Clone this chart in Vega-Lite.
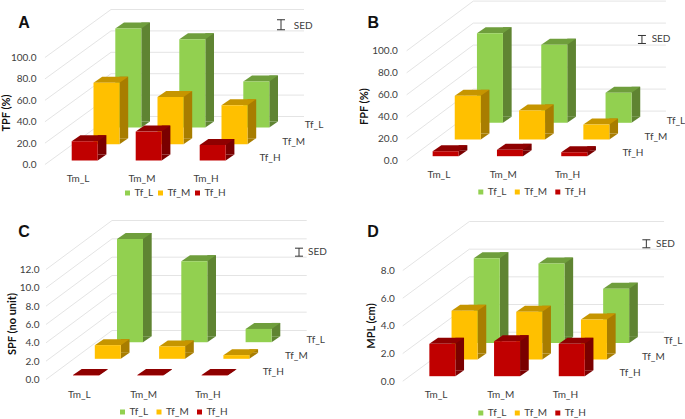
{"$schema":"https://vega.github.io/schema/vega-lite/v6.json","padding":{"left":0,"top":-1.5,"right":0,"bottom":0},"background":"white","columns":2,"spacing":0,"bounds":"flush","resolve":{"scale":{"color":"independent"},"legend":{"color":"independent"}},"config":{"view":{"stroke":null},"axis":{"domain":false,"ticks":false,"grid":false,"labelFont":"Lato","labelFontSize":10,"labelColor":"#404040","titleFont":"Lato","titleFontWeight":"bold","titleFontSize":11,"titleColor":"#111111","labelOverlap":false,"labelFlush":false,"titleBaseline":"middle","titleAlign":"center"},"legend":{"title":null,"orient":"none","direction":"horizontal","columns":3,"symbolType":"square","symbolSize":25,"symbolStrokeWidth":0,"labelFont":"Lato","labelFontSize":10,"labelColor":"#404040","labelOffset":2,"columnPadding":5.5,"gridAlign":"each"},"text":{"font":"Lato","fontSize":10,"color":"#404040","baseline":"middle"}},
"concat":[
{"width":340,"height":210,"data":{"values":[{"Tm":"Tm_L","Tf":"Tf_L","value":92.5},{"Tm":"Tm_M","Tf":"Tf_L","value":82.5},{"Tm":"Tm_H","Tf":"Tf_L","value":43},{"Tm":"Tm_L","Tf":"Tf_M","value":57.5},{"Tm":"Tm_M","Tf":"Tf_M","value":44},{"Tm":"Tm_H","Tf":"Tf_M","value":36.5},{"Tm":"Tm_L","Tf":"Tf_H","value":18},{"Tm":"Tm_M","Tf":"Tf_H","value":27},{"Tm":"Tm_H","Tf":"Tf_H","value":14.5}]},
"encoding":{"x":{"field":"Tm","type":"nominal","sort":null,"title":null,"scale":{"type":"band","domain":["Tm_L","Tm_M","Tm_H"],"range":[52.7,244.7],"paddingInner":0,"paddingOuter":0},"axis":{"offset":-32,"labelPadding":0,"labelAngle":0,"labelBaseline":"middle","labelOffset":-6.7}},"y":{"field":"value","type":"quantitative","title":"TPF (%)","scale":{"domain":[0,100],"range":[164,57],"nice":false},"axis":{"offset":-45,"labelPadding":9,"format":".1f","values":[0,20,40,60,80,100],"titleX":-38.3,"titleY":112}}},
"layer":[
{"data":{"values":[{"grid":0},{"grid":20},{"grid":40},{"grid":60},{"grid":80},{"grid":100}]},"mark":{"type":"point","shape":"M-39.7,0L26.3,-48L219.3,-48","size":4,"filled":false,"opacity":1,"color":"#e4e4e4","strokeWidth":1},"encoding":{"x":{"datum":"Tm_L","type":"nominal"},"y":{"field":"grid","type":"quantitative"}}},
{"transform":[{"filter":"datum.Tf=='Tf_L'"}],"layer":[
{"mark":{"type":"point","shape":"M0,0L0,-6L8.7,-6Z","size":4,"filled":true,"opacity":1,"strokeWidth":0,"color":"#5F8432","xOffset":56.6,"yOffset":-37},"encoding":{"y":{"datum":0,"type":"quantitative"}}},
{"mark":{"type":"bar","width":8.7,"color":"#5F8432","xOffset":60.95,"yOffset":-43,"y2Offset":-43}},
{"mark":{"type":"point","shape":"M-13,0L13,0L21.7,-6L-4.3,-6Z","size":4,"filled":true,"opacity":1,"strokeWidth":0,"color":"#6F9E3C","xOffset":43.6,"yOffset":-37}},
{"mark":{"type":"bar","width":26,"xOffset":43.6,"yOffset":-37,"y2Offset":-37},"encoding":{"color":{"field":"Tf","type":"nominal","sort":null,"scale":{"domain":["Tf_L","Tf_M","Tf_H"],"range":["#92D050","#FFC000","#C00000"]},"legend":{"legendX":122.5,"legendY":187.5,"columnPadding":2}}}},
{"transform":[{"filter":"datum.Tm=='Tm_H'"}],"mark":{"type":"text","xOffset":101.3,"yOffset":-40},"encoding":{"y":{"datum":0,"type":"quantitative"},"text":{"field":"Tf"}}}]},
{"transform":[{"filter":"datum.Tf=='Tf_M'"}],"layer":[
{"mark":{"type":"point","shape":"M0,0L0,-6L8.7,-6Z","size":4,"filled":true,"opacity":1,"strokeWidth":0,"color":"#A87D00","xOffset":34.8,"yOffset":-20.3},"encoding":{"y":{"datum":0,"type":"quantitative"}}},
{"mark":{"type":"bar","width":8.7,"color":"#A87D00","xOffset":39.15,"yOffset":-26.3,"y2Offset":-26.3}},
{"mark":{"type":"point","shape":"M-13,0L13,0L21.7,-6L-4.3,-6Z","size":4,"filled":true,"opacity":1,"strokeWidth":0,"color":"#C69500","xOffset":21.8,"yOffset":-20.3}},
{"mark":{"type":"bar","width":26,"xOffset":21.8,"yOffset":-20.3,"y2Offset":-20.3},"encoding":{"color":{"field":"Tf","type":"nominal","sort":null}}},
{"transform":[{"filter":"datum.Tm=='Tm_H'"}],"mark":{"type":"text","xOffset":81,"yOffset":-23},"encoding":{"y":{"datum":0,"type":"quantitative"},"text":{"field":"Tf"}}}]},
{"transform":[{"filter":"datum.Tf=='Tf_H'"}],"layer":[
{"mark":{"type":"point","shape":"M0,0L0,-6L8.7,-6Z","size":4,"filled":true,"opacity":1,"strokeWidth":0,"color":"#7A0000","xOffset":13,"yOffset":-4},"encoding":{"y":{"datum":0,"type":"quantitative"}}},
{"mark":{"type":"bar","width":8.7,"color":"#7A0000","xOffset":17.35,"yOffset":-10,"y2Offset":-10}},
{"mark":{"type":"point","shape":"M-13,0L13,0L21.7,-6L-4.3,-6Z","size":4,"filled":true,"opacity":1,"strokeWidth":0,"color":"#8F0000","xOffset":0,"yOffset":-4}},
{"mark":{"type":"bar","width":26,"xOffset":0,"yOffset":-4,"y2Offset":-4},"encoding":{"color":{"field":"Tf","type":"nominal","sort":null}}},
{"transform":[{"filter":"datum.Tm=='Tm_H'"}],"mark":{"type":"text","xOffset":57.3,"yOffset":-6.3},"encoding":{"y":{"datum":0,"type":"quantitative"},"text":{"field":"Tf"}}}]},
{"data":{"values":[{"Tm":"Tm_H","label":"SED","value":130.6}]},"layer":[{"mark":{"type":"point","shape":"M-4,-5L4,-5M0,-5L0,5M-4,5L4,5","size":4,"filled":false,"opacity":1,"color":"#333333","strokeWidth":1,"xOffset":68.3}},{"mark":{"type":"text","align":"left","xOffset":81,"yOffset":1},"encoding":{"text":{"field":"label"}}}]},
{"data":{"values":[{"Tm":"Tm_L","panel":"A","value":131.8}]},"mark":{"type":"text","font":"Liberation Sans","fontWeight":"bold","fontSize":16,"color":"#111111","xOffset":-60.7},"encoding":{"text":{"field":"panel"}}}
]},
{"width":340,"height":210,"data":{"values":[{"Tm":"Tm_L","Tf":"Tf_L","value":81.5},{"Tm":"Tm_M","Tf":"Tf_L","value":71},{"Tm":"Tm_H","Tf":"Tf_L","value":27.3},{"Tm":"Tm_L","Tf":"Tf_M","value":39.7},{"Tm":"Tm_M","Tf":"Tf_M","value":26.4},{"Tm":"Tm_H","Tf":"Tf_M","value":13.6},{"Tm":"Tm_L","Tf":"Tf_H","value":4.5},{"Tm":"Tm_M","Tf":"Tf_H","value":5.8},{"Tm":"Tm_H","Tf":"Tf_H","value":3.6}]},
"encoding":{"x":{"field":"Tm","type":"nominal","sort":null,"title":null,"scale":{"type":"band","domain":["Tm_L","Tm_M","Tm_H"],"range":[73.5,266.4],"paddingInner":0,"paddingOuter":0},"axis":{"offset":-35.7,"labelPadding":0,"labelAngle":0,"labelBaseline":"middle","labelOffset":-6.7}},"y":{"field":"value","type":"quantitative","title":"FPF (%)","scale":{"domain":[0,100],"range":[160.3,50.3],"nice":false},"axis":{"offset":-66.7,"labelPadding":9.4,"format":".1f","values":[0,20,40,60,80,100],"titleX":-42.7,"titleY":105.7}}},
"layer":[
{"data":{"values":[{"grid":0},{"grid":20},{"grid":40},{"grid":60},{"grid":80},{"grid":100}]},"mark":{"type":"point","shape":"M-39,0L27.6,-49.7L220.3,-49.7","size":4,"filled":false,"opacity":1,"color":"#e4e4e4","strokeWidth":1},"encoding":{"x":{"datum":"Tm_L","type":"nominal"},"y":{"field":"grid","type":"quantitative"}}},
{"transform":[{"filter":"datum.Tf=='Tf_L'"}],"layer":[
{"mark":{"type":"point","shape":"M0,0L0,-6L8.7,-6Z","size":4,"filled":true,"opacity":1,"strokeWidth":0,"color":"#5F8432","xOffset":57.3,"yOffset":-38},"encoding":{"y":{"datum":0,"type":"quantitative"}}},
{"mark":{"type":"bar","width":8.7,"color":"#5F8432","xOffset":61.65,"yOffset":-44,"y2Offset":-44}},
{"mark":{"type":"point","shape":"M-13,0L13,0L21.7,-6L-4.3,-6Z","size":4,"filled":true,"opacity":1,"strokeWidth":0,"color":"#6F9E3C","xOffset":44.3,"yOffset":-38}},
{"mark":{"type":"bar","width":26,"xOffset":44.3,"yOffset":-38,"y2Offset":-38},"encoding":{"color":{"field":"Tf","type":"nominal","sort":null,"scale":{"domain":["Tf_L","Tf_M","Tf_H"],"range":["#92D050","#FFC000","#C00000"]},"legend":{"legendX":135.8,"legendY":186.5}}}},
{"transform":[{"filter":"datum.Tm=='Tm_H'"}],"mark":{"type":"text","xOffset":101.7,"yOffset":-40.3},"encoding":{"y":{"datum":0,"type":"quantitative"},"text":{"field":"Tf"}}}]},
{"transform":[{"filter":"datum.Tf=='Tf_M'"}],"layer":[
{"mark":{"type":"point","shape":"M0,0L0,-6L8.7,-6Z","size":4,"filled":true,"opacity":1,"strokeWidth":0,"color":"#A87D00","xOffset":35.1,"yOffset":-21.3},"encoding":{"y":{"datum":0,"type":"quantitative"}}},
{"mark":{"type":"bar","width":8.7,"color":"#A87D00","xOffset":39.45,"yOffset":-27.3,"y2Offset":-27.3}},
{"mark":{"type":"point","shape":"M-13,0L13,0L21.7,-6L-4.3,-6Z","size":4,"filled":true,"opacity":1,"strokeWidth":0,"color":"#C69500","xOffset":22.1,"yOffset":-21.3}},
{"mark":{"type":"bar","width":26,"xOffset":22.1,"yOffset":-21.3,"y2Offset":-21.3},"encoding":{"color":{"field":"Tf","type":"nominal","sort":null}}},
{"transform":[{"filter":"datum.Tm=='Tm_H'"}],"mark":{"type":"text","xOffset":81.7,"yOffset":-24.3},"encoding":{"y":{"datum":0,"type":"quantitative"},"text":{"field":"Tf"}}}]},
{"transform":[{"filter":"datum.Tf=='Tf_H'"}],"layer":[
{"mark":{"type":"point","shape":"M0,0L0,-6L8.7,-6Z","size":4,"filled":true,"opacity":1,"strokeWidth":0,"color":"#7A0000","xOffset":13,"yOffset":-4.6},"encoding":{"y":{"datum":0,"type":"quantitative"}}},
{"mark":{"type":"bar","width":8.7,"color":"#7A0000","xOffset":17.35,"yOffset":-10.6,"y2Offset":-10.6}},
{"mark":{"type":"point","shape":"M-13,0L13,0L21.7,-6L-4.3,-6Z","size":4,"filled":true,"opacity":1,"strokeWidth":0,"color":"#8F0000","xOffset":0,"yOffset":-4.6}},
{"mark":{"type":"bar","width":26,"xOffset":0,"yOffset":-4.6,"y2Offset":-4.6},"encoding":{"color":{"field":"Tf","type":"nominal","sort":null}}},
{"transform":[{"filter":"datum.Tm=='Tm_H'"}],"mark":{"type":"text","xOffset":58.7,"yOffset":-8},"encoding":{"y":{"datum":0,"type":"quantitative"},"text":{"field":"Tf"}}}]},
{"data":{"values":[{"Tm":"Tm_H","label":"SED","value":110.3}]},"layer":[{"mark":{"type":"point","shape":"M-4,-4L4,-4M0,-4L0,4M-4,4L4,4","size":4,"filled":false,"opacity":1,"color":"#333333","strokeWidth":1,"xOffset":67.7}},{"mark":{"type":"text","align":"left","xOffset":77.4},"encoding":{"text":{"field":"label"}}}]},
{"data":{"values":[{"Tm":"Tm_L","panel":"B","value":125.5}]},"mark":{"type":"text","font":"Liberation Sans","fontWeight":"bold","fontSize":16,"color":"#111111","xOffset":-72.4},"encoding":{"text":{"field":"panel"}}}
]},
{"width":340,"height":210,"data":{"values":[{"Tm":"Tm_L","Tf":"Tf_L","value":11.27},{"Tm":"Tm_M","Tf":"Tf_L","value":8.84},{"Tm":"Tm_H","Tf":"Tf_L","value":1.45},{"Tm":"Tm_L","Tf":"Tf_M","value":1.49},{"Tm":"Tm_M","Tf":"Tf_M","value":1.35},{"Tm":"Tm_H","Tf":"Tf_M","value":0.4},{"Tm":"Tm_L","Tf":"Tf_H","value":0.05},{"Tm":"Tm_M","Tf":"Tf_H","value":0.05},{"Tm":"Tm_H","Tf":"Tf_H","value":0.05}]},
"encoding":{"x":{"field":"Tm","type":"nominal","sort":null,"title":null,"scale":{"type":"band","domain":["Tm_L","Tm_M","Tm_H"],"range":[53.85,246.75],"paddingInner":0,"paddingOuter":0},"axis":{"offset":-26,"labelPadding":0,"labelAngle":0,"labelBaseline":"middle","labelOffset":-6.7}},"y":{"field":"value","type":"quantitative","title":"SPF (no unit)","scale":{"domain":[0,12],"range":[169,59],"nice":false},"axis":{"offset":-46,"labelPadding":7,"format":".1f","values":[0,2,4,6,8,10,12],"titleX":-34,"titleY":113}}},
"layer":[
{"data":{"values":[{"grid":0},{"grid":2},{"grid":4},{"grid":6},{"grid":8},{"grid":10},{"grid":12}]},"mark":{"type":"point","shape":"M-40,0L26,-49L220.7,-49","size":4,"filled":false,"opacity":1,"color":"#e4e4e4","strokeWidth":1},"encoding":{"x":{"datum":"Tm_L","type":"nominal"},"y":{"field":"grid","type":"quantitative"}}},
{"transform":[{"filter":"datum.Tf=='Tf_L'"}],"layer":[
{"mark":{"type":"point","shape":"M0,0L0,-6L8.7,-6Z","size":4,"filled":true,"opacity":1,"strokeWidth":0,"color":"#5F8432","xOffset":57,"yOffset":-37.3},"encoding":{"y":{"datum":0,"type":"quantitative"}}},
{"mark":{"type":"bar","width":8.7,"color":"#5F8432","xOffset":61.35,"yOffset":-43.3,"y2Offset":-43.3}},
{"mark":{"type":"point","shape":"M-13,0L13,0L21.7,-6L-4.3,-6Z","size":4,"filled":true,"opacity":1,"strokeWidth":0,"color":"#6F9E3C","xOffset":44,"yOffset":-37.3}},
{"mark":{"type":"bar","width":26,"xOffset":44,"yOffset":-37.3,"y2Offset":-37.3},"encoding":{"color":{"field":"Tf","type":"nominal","sort":null,"scale":{"domain":["Tf_L","Tf_M","Tf_H"],"range":["#92D050","#FFC000","#C00000"]},"legend":{"legendX":117.5,"legendY":196.5}}}},
{"transform":[{"filter":"datum.Tm=='Tm_H'"}],"mark":{"type":"text","xOffset":101.1,"yOffset":-40},"encoding":{"y":{"datum":0,"type":"quantitative"},"text":{"field":"Tf"}}}]},
{"transform":[{"filter":"datum.Tf=='Tf_M'"}],"layer":[
{"mark":{"type":"point","shape":"M0,0L0,-6L8.7,-6Z","size":4,"filled":true,"opacity":1,"strokeWidth":0,"color":"#A87D00","xOffset":34.8,"yOffset":-20.7},"encoding":{"y":{"datum":0,"type":"quantitative"}}},
{"mark":{"type":"bar","width":8.7,"color":"#A87D00","xOffset":39.15,"yOffset":-26.7,"y2Offset":-26.7}},
{"mark":{"type":"point","shape":"M-13,0L13,0L21.7,-6L-4.3,-6Z","size":4,"filled":true,"opacity":1,"strokeWidth":0,"color":"#C69500","xOffset":21.8,"yOffset":-20.7}},
{"mark":{"type":"bar","width":26,"xOffset":21.8,"yOffset":-20.7,"y2Offset":-20.7},"encoding":{"color":{"field":"Tf","type":"nominal","sort":null}}},
{"transform":[{"filter":"datum.Tm=='Tm_H'"}],"mark":{"type":"text","xOffset":81.7,"yOffset":-23.7},"encoding":{"y":{"datum":0,"type":"quantitative"},"text":{"field":"Tf"}}}]},
{"transform":[{"filter":"datum.Tf=='Tf_H'"}],"layer":[
{"mark":{"type":"point","shape":"M0,0L0,-6L8.7,-6Z","size":4,"filled":true,"opacity":1,"strokeWidth":0,"color":"#7A0000","xOffset":13,"yOffset":-4},"encoding":{"y":{"datum":0,"type":"quantitative"}}},
{"mark":{"type":"bar","width":8.7,"color":"#7A0000","xOffset":17.35,"yOffset":-10,"y2Offset":-10}},
{"mark":{"type":"point","shape":"M-13,0L13,0L21.7,-6L-4.3,-6Z","size":4,"filled":true,"opacity":1,"strokeWidth":0,"color":"#8F0000","xOffset":0,"yOffset":-4}},
{"mark":{"type":"bar","width":26,"xOffset":0,"yOffset":-4,"y2Offset":-4},"encoding":{"color":{"field":"Tf","type":"nominal","sort":null}}},
{"transform":[{"filter":"datum.Tm=='Tm_H'"}],"mark":{"type":"text","xOffset":58.7,"yOffset":-7.3},"encoding":{"y":{"datum":0,"type":"quantitative"},"text":{"field":"Tf"}}}]},
{"data":{"values":[{"Tm":"Tm_H","label":"SED","value":13.89}]},"layer":[{"mark":{"type":"point","shape":"M-4,-4L4,-4M0,-4L0,4M-4,4L4,4","size":4,"filled":false,"opacity":1,"color":"#333333","strokeWidth":1,"xOffset":84.4}},{"mark":{"type":"text","align":"left","xOffset":93.4},"encoding":{"text":{"field":"label"}}}]},
{"data":{"values":[{"Tm":"Tm_L","panel":"C","value":16.07}]},"mark":{"type":"text","font":"Liberation Sans","fontWeight":"bold","fontSize":16,"color":"#111111","xOffset":-62},"encoding":{"text":{"field":"panel"}}}
]},
{"width":340,"height":210,"data":{"values":[{"Tm":"Tm_L","Tf":"Tf_L","value":6.12},{"Tm":"Tm_M","Tf":"Tf_L","value":5.73},{"Tm":"Tm_H","Tf":"Tf_L","value":3.92},{"Tm":"Tm_L","Tf":"Tf_M","value":3.52},{"Tm":"Tm_M","Tf":"Tf_M","value":3.45},{"Tm":"Tm_H","Tf":"Tf_M","value":2.89},{"Tm":"Tm_L","Tf":"Tf_H","value":2.34},{"Tm":"Tm_M","Tf":"Tf_H","value":2.53},{"Tm":"Tm_H","Tf":"Tf_H","value":2.34}]},
"encoding":{"x":{"field":"Tm","type":"nominal","sort":null,"title":null,"scale":{"type":"band","domain":["Tm_L","Tm_M","Tm_H"],"range":[70,264.1],"paddingInner":0,"paddingOuter":0},"axis":{"offset":-26,"labelPadding":0,"labelAngle":0,"labelBaseline":"middle","labelOffset":-6.3}},"y":{"field":"value","type":"quantitative","title":"MPL (cm)","scale":{"domain":[0,8],"range":[170.7,60],"nice":false},"axis":{"offset":-62.7,"labelPadding":8.4,"format":".1f","values":[0,2,4,6,8],"titleX":-31.7,"titleY":115}}},
"layer":[
{"data":{"values":[{"grid":0},{"grid":2},{"grid":4},{"grid":6},{"grid":8}]},"mark":{"type":"point","shape":"M-39.6,0L27,-49L221.7,-49","size":4,"filled":false,"opacity":1,"color":"#e4e4e4","strokeWidth":1},"encoding":{"x":{"datum":"Tm_L","type":"nominal"},"y":{"field":"grid","type":"quantitative"}}},
{"transform":[{"filter":"datum.Tf=='Tf_L'"}],"layer":[
{"mark":{"type":"point","shape":"M0,0L0,-6L8.7,-6Z","size":4,"filled":true,"opacity":1,"strokeWidth":0,"color":"#5F8432","xOffset":57.4,"yOffset":-38.3},"encoding":{"y":{"datum":0,"type":"quantitative"}}},
{"mark":{"type":"bar","width":8.7,"color":"#5F8432","xOffset":61.75,"yOffset":-44.3,"y2Offset":-44.3}},
{"mark":{"type":"point","shape":"M-13,0L13,0L21.7,-6L-4.3,-6Z","size":4,"filled":true,"opacity":1,"strokeWidth":0,"color":"#6F9E3C","xOffset":44.4,"yOffset":-38.3}},
{"mark":{"type":"bar","width":26,"xOffset":44.4,"yOffset":-38.3,"y2Offset":-38.3},"encoding":{"color":{"field":"Tf","type":"nominal","sort":null,"scale":{"domain":["Tf_L","Tf_M","Tf_H"],"range":["#92D050","#FFC000","#C00000"]},"legend":{"legendX":135.8,"legendY":197.5}}}},
{"transform":[{"filter":"datum.Tm=='Tm_H'"}],"mark":{"type":"text","xOffset":101.3,"yOffset":-40.7},"encoding":{"y":{"datum":0,"type":"quantitative"},"text":{"field":"Tf"}}}]},
{"transform":[{"filter":"datum.Tf=='Tf_M'"}],"layer":[
{"mark":{"type":"point","shape":"M0,0L0,-6L8.7,-6Z","size":4,"filled":true,"opacity":1,"strokeWidth":0,"color":"#A87D00","xOffset":35.2,"yOffset":-21.7},"encoding":{"y":{"datum":0,"type":"quantitative"}}},
{"mark":{"type":"bar","width":8.7,"color":"#A87D00","xOffset":39.55,"yOffset":-27.7,"y2Offset":-27.7}},
{"mark":{"type":"point","shape":"M-13,0L13,0L21.7,-6L-4.3,-6Z","size":4,"filled":true,"opacity":1,"strokeWidth":0,"color":"#C69500","xOffset":22.2,"yOffset":-21.7}},
{"mark":{"type":"bar","width":26,"xOffset":22.2,"yOffset":-21.7,"y2Offset":-21.7},"encoding":{"color":{"field":"Tf","type":"nominal","sort":null}}},
{"transform":[{"filter":"datum.Tm=='Tm_H'"}],"mark":{"type":"text","xOffset":81.6,"yOffset":-24.7},"encoding":{"y":{"datum":0,"type":"quantitative"},"text":{"field":"Tf"}}}]},
{"transform":[{"filter":"datum.Tf=='Tf_H'"}],"layer":[
{"mark":{"type":"point","shape":"M0,0L0,-6L8.7,-6Z","size":4,"filled":true,"opacity":1,"strokeWidth":0,"color":"#7A0000","xOffset":13,"yOffset":-5},"encoding":{"y":{"datum":0,"type":"quantitative"}}},
{"mark":{"type":"bar","width":8.7,"color":"#7A0000","xOffset":17.35,"yOffset":-11,"y2Offset":-11}},
{"mark":{"type":"point","shape":"M-13,0L13,0L21.7,-6L-4.3,-6Z","size":4,"filled":true,"opacity":1,"strokeWidth":0,"color":"#8F0000","xOffset":0,"yOffset":-5}},
{"mark":{"type":"bar","width":26,"xOffset":0,"yOffset":-5,"y2Offset":-5},"encoding":{"color":{"field":"Tf","type":"nominal","sort":null}}},
{"transform":[{"filter":"datum.Tm=='Tm_H'"}],"mark":{"type":"text","xOffset":58.3,"yOffset":-8},"encoding":{"y":{"datum":0,"type":"quantitative"},"text":{"field":"Tf"}}}]},
{"data":{"values":[{"Tm":"Tm_H","label":"SED","value":9.93}]},"layer":[{"mark":{"type":"point","shape":"M-4,-4L4,-4M0,-4L0,4M-4,4L4,4","size":4,"filled":false,"opacity":1,"color":"#333333","strokeWidth":1,"xOffset":74.6}},{"mark":{"type":"text","align":"left","xOffset":84.3},"encoding":{"text":{"field":"label"}}}]},
{"data":{"values":[{"Tm":"Tm_L","panel":"D","value":10.77}]},"mark":{"type":"text","font":"Liberation Sans","fontWeight":"bold","fontSize":16,"color":"#111111","xOffset":-69.3},"encoding":{"text":{"field":"panel"}}}
]}
]}
